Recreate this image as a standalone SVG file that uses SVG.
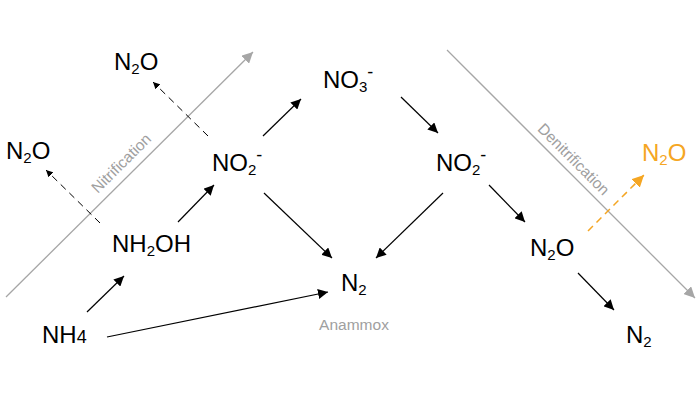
<svg xmlns="http://www.w3.org/2000/svg" width="700" height="400" viewBox="0 0 700 400">
<style>
  .t { font-family: "Liberation Sans", Arial, sans-serif; font-size: 24px; fill: #000; }
  .s { font-size: 15px; }
  .lbl { font-family: "Liberation Sans", Arial, sans-serif; font-size: 15.5px; fill: #a0a0a0; }
  .a { stroke: #000; stroke-width: 1.2; fill: none; marker-end: url(#ah); }
  .d { stroke: #000; stroke-width: 1; fill: none; stroke-dasharray: 7 5; marker-end: url(#ahs); }
  .o { stroke: #F5A623; stroke-width: 1.5; fill: none; stroke-dasharray: 7 5; marker-end: url(#aho); }
  .g { stroke: #a6a6a6; stroke-width: 1.3; fill: none; marker-end: url(#ahg); }
</style>
<defs>
  <marker id="ah" viewBox="0 0 10 10" refX="10" refY="5" markerWidth="10" markerHeight="10" markerUnits="userSpaceOnUse" orient="auto">
    <path d="M0,0 L10,5 L0,10 z" fill="#000"/>
  </marker>
  <marker id="ahs" viewBox="0 0 10 10" refX="10" refY="5" markerWidth="7" markerHeight="7" markerUnits="userSpaceOnUse" orient="auto">
    <path d="M0,0 L10,5 L0,10 z" fill="#000"/>
  </marker>
  <marker id="aho" viewBox="0 0 10 10" refX="10" refY="5" markerWidth="12" markerHeight="12" markerUnits="userSpaceOnUse" orient="auto">
    <path d="M0,0 L10,5 L0,10 z" fill="#F5A623"/>
  </marker>
  <marker id="ahg" viewBox="0 0 10 10" refX="10" refY="5" markerWidth="11" markerHeight="11" markerUnits="userSpaceOnUse" orient="auto">
    <path d="M0,0 L10,5 L0,10 z" fill="#a6a6a6"/>
  </marker>
</defs>

<g id="process-lines">
  <line class="g" x1="6" y1="297" x2="253" y2="52"/>
  <text class="lbl" transform="translate(125,167) rotate(-44.8)" text-anchor="middle">Nitrification</text>
  <line class="g" x1="447" y1="50" x2="695" y2="298"/>
  <text class="lbl" transform="translate(570,163) rotate(45)" text-anchor="middle">Denitrification</text>
</g>

<g id="connectors">
  <line class="a" x1="87" y1="312" x2="124" y2="276"/>
  <line class="a" x1="178" y1="222" x2="214" y2="185"/>
  <line class="a" x1="107" y1="337" x2="328" y2="292"/>
  <line class="a" x1="263" y1="136" x2="301" y2="99"/>
  <line class="a" x1="401" y1="97" x2="438" y2="133"/>
  <line class="a" x1="264" y1="193" x2="332" y2="258"/>
  <line class="a" x1="443" y1="193" x2="376" y2="258"/>
  <line class="a" x1="489" y1="185" x2="525" y2="222"/>
  <line class="a" x1="578" y1="273" x2="614" y2="310"/>
  <line class="d" x1="100" y1="223" x2="46" y2="170"/>
  <line class="d" x1="208" y1="136" x2="153" y2="82"/>
  <line class="o" x1="588" y1="231" x2="644" y2="175"/>
</g>

<g id="n2o-top"><text class="t" x="114" y="70">N<tspan class="s" dy="4">2</tspan><tspan dy="-4">O</tspan></text></g>
<g id="n2o-left"><text class="t" x="6" y="159">N<tspan class="s" dy="4">2</tspan><tspan dy="-4">O</tspan></text></g>
<g id="nh4"><text class="t" x="42" y="343">NH<tspan font-size="18">4</tspan></text></g>
<g id="nh2oh"><text class="t" x="112" y="252">NH<tspan class="s" dy="4">2</tspan><tspan dy="-4">OH</tspan></text></g>
<g id="no2-left"><text class="t" x="212" y="171">NO<tspan class="s" dy="4">2</tspan><tspan font-size="18" dy="-14">-</tspan></text></g>
<g id="no3"><text class="t" x="323" y="88">NO<tspan class="s" dy="4">3</tspan><tspan font-size="18" dy="-14">-</tspan></text></g>
<g id="no2-right"><text class="t" x="436" y="171">NO<tspan class="s" dy="4">2</tspan><tspan font-size="18" dy="-14">-</tspan></text></g>
<g id="n2-mid"><text class="t" x="341" y="291">N<tspan class="s" dy="4">2</tspan></text>
  <text class="lbl" x="354" y="330" text-anchor="middle">Anammox</text></g>
<g id="n2o-mid"><text class="t" x="530" y="256">N<tspan class="s" dy="4">2</tspan><tspan dy="-4">O</tspan></text></g>
<g id="n2o-orange"><text class="t" x="642" y="161" style="fill:#F5A623">N<tspan class="s" dy="4">2</tspan><tspan dy="-4">O</tspan></text></g>
<g id="n2-right"><text class="t" x="626" y="343">N<tspan class="s" dy="4">2</tspan></text></g>
</svg>
